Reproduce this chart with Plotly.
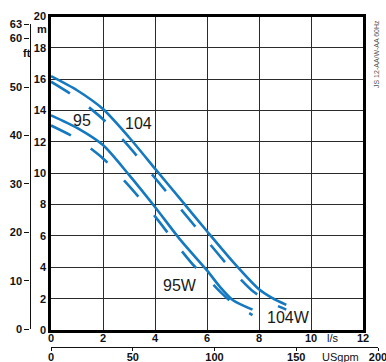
import plotly.graph_objects as go

# ---- data ----
q_104 = [0, 1, 2, 3, 4, 5, 6, 7, 8, 8.5, 9.05]
h_104 = [16.2, 15.3, 14.1, 12.3, 10.3, 8.3, 6.3, 4.35, 2.6, 2.05, 1.6]

q_104w = [0, 1, 2, 3, 4, 5, 6, 7, 7.78, 8.5, 9.05]
h_104w = [15.85, 14.8, 13.45, 11.7, 9.7, 7.7, 5.7, 3.75, 2.45, 1.7, 1.3]

q_95 = [0, 1, 2, 3, 4, 5, 6, 6.5, 7, 7.75]
h_95 = [13.7, 12.9, 11.8, 9.9, 7.85, 5.7, 3.8, 2.75, 1.9, 1.3]

q_95w = [0, 1, 2, 3, 4, 5, 5.5, 6, 6.5, 7, 7.75]
h_95w = [13.05, 12.2, 10.95, 9.2, 7.25, 5.1, 4.1, 3.3, 2.45, 1.7, 0.95]

ls_ticks = [0, 2, 4, 6, 8, 10, 12]
m_ticks = [0, 2, 4, 6, 8, 10, 12, 14, 16, 18, 20]
ft_ticks = [0, 10, 20, 30, 40, 50, 60, 63]
gpm_ticks = [0, 50, 100, 150, 200]

curve_labels = ["95", "104", "95W", "104W"]
label_q = [1.19, 3.35, 4.96, 9.12]
label_h = [13.34, 13.18, 2.87, 0.77]

# ---- styling ----
W, H = 386, 362
BLUE = "#1479c0"
GRID = "#2b2b2b"
FONT = "Liberation Sans"


def fx(px):
    return px / W


def fy(py):
    return 1 - py / H


fig = go.Figure()

curves = [(q_104, h_104, "solid"), (q_104w, h_104w, "22px,24px"),
          (q_95, h_95, "solid"), (q_95w, h_95w, "22px,24px")]
for q, h, dash in curves:
    fig.add_trace(go.Scatter(
        x=q, y=h, mode="lines", xaxis="x", yaxis="y",
        line=dict(color=BLUE, width=2.6, dash=dash, shape="spline", smoothing=0.7),
        hoverinfo="skip", showlegend=False))

# invisible trace to carry the secondary (ft / USgpm) axes
fig.add_trace(go.Scatter(x=[0], y=[0], xaxis="x2", yaxis="y2", mode="markers",
                         marker=dict(opacity=0), hoverinfo="skip", showlegend=False))

tickfont_b = dict(family=FONT, size=11, color="#111", weight="bold")

fig.update_layout(
    width=W, height=H, autosize=False,
    margin=dict(l=0, r=0, t=0, b=0),
    paper_bgcolor="white", plot_bgcolor="rgba(0,0,0,0)",
    font=dict(family=FONT, color="#111"),
    xaxis=dict(domain=[fx(51), fx(363)], range=[0, 12], tickvals=ls_ticks,
               showgrid=True, gridcolor=GRID, gridwidth=1.2, zeroline=False,
               showline=True, linecolor="black", linewidth=2.5, mirror=True,
               ticks="", tickfont=tickfont_b, ticklabelstandoff=-4, automargin=False),
    yaxis=dict(domain=[fy(330), fy(16.6)], range=[0, 20], tickvals=m_ticks,
               showgrid=True, gridcolor=GRID, gridwidth=1.2, zeroline=False,
               showline=True, linecolor="black", linewidth=2.5, mirror=True,
               ticks="", tickfont=tickfont_b, ticklabelstandoff=0, automargin=False),
    yaxis2=dict(domain=[fy(329.3), fy(24)], range=[0, 63], tickvals=ft_ticks,
                anchor="free", position=fx(29.5), side="left",
                showgrid=False, zeroline=False, showline=True, linecolor="#111",
                linewidth=1.4, ticks="outside", ticklen=5, tickwidth=1.4, tickcolor="#111",
                tickfont=tickfont_b, ticklabelstandoff=0, automargin=False),
    xaxis2=dict(domain=[fx(51), fx(378)], range=[0, 200], tickvals=gpm_ticks,
                anchor="free", position=fy(346.7), side="bottom",
                showgrid=False, zeroline=False, showline=True, linecolor="#111",
                linewidth=1.4, ticks="outside", ticklen=3, tickwidth=1.4, tickcolor="#111",
                tickfont=tickfont_b, ticklabelstandoff=-3, ticklabeloverflow="allow",
                automargin=False),
)

annotations = []
for txt, q, h in zip(curve_labels, label_q, label_h):
    annotations.append(dict(x=q, y=h, xref="x", yref="y", text=txt, showarrow=False,
                            xanchor="center", yanchor="middle",
                            font=dict(family=FONT, size=16, color="#1a1a1a")))

paper_notes = [
    ("m", 41.5, 29, dict(size=11, weight="bold"), 0),
    ("ft", 27, 53.5, dict(size=11, weight="bold"), 0),
    ("l/s", 333, 337.5, dict(size=11), 0),
    ("USgpm", 340, 357, dict(size=11), 0),
    ("JS 12-AA/W-AA 60Hz", 377, 54, dict(size=7, color="#555"), -90),
]
for txt, px, py, f, ang in paper_notes:
    font = dict(family=FONT, color="#111")
    font.update(f)
    annotations.append(dict(x=fx(px), y=fy(py), xref="paper", yref="paper", text=txt,
                            showarrow=False, xanchor="center", yanchor="middle",
                            textangle=ang, font=font))

fig.update_layout(annotations=annotations)

fig.write_html("out.html", config={"displayModeBar": False},
               post_script="document.body.style.margin='0';document.body.style.overflow='hidden';")
